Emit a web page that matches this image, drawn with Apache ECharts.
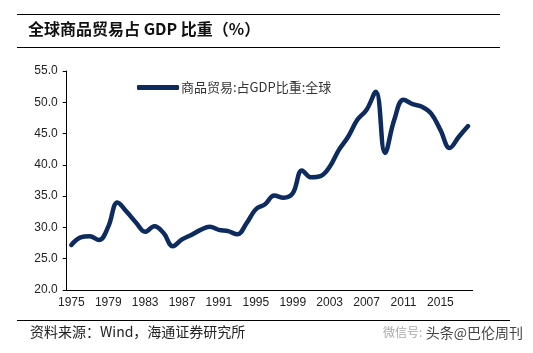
<!DOCTYPE html>
<html>
<head>
<meta charset="utf-8">
<script src="https://cdn.jsdelivr.net/npm/echarts@6/dist/echarts.min.js"></script>
<style>
  html, body { margin: 0; padding: 0; background: #fff; }
  #chart { width: 533px; height: 353px; }
</style>
</head>
<body>
<div id="chart"></div>
<script>
// years on the category axis
const years = [];
for (let y = 1975; y <= 2018; y++) years.push(String(y));

// 商品贸易:占GDP比重:全球 (%)
const tradeShare = [
  27.2, 28.4, 28.6, 28.0, 30.1, 34.0, 32.5, 30.8, 29.3, 30.2,
  29.1, 27.0, 28.1, 28.8, 29.6, 30.1, 29.6, 29.4, 28.9, 30.7,
  32.9, 33.7, 35.1, 34.75, 35.45, 39.1, 38.0, 38.2, 39.7, 42.4,
  44.5, 47.2, 48.8, 51.7, 41.9, 47.2, 50.4, 49.7, 49.3, 48.2,
  45.6, 42.7, 44.5, 46.2
];

const seriesName = '商品贸易:占GDP比重:全球';
const chartTitle = '全球商品贸易占 GDP 比重（%）';
const sourceNote = '资料来源：Wind，海通证券研究所';

const chart = echarts.init(document.getElementById('chart'));

const axisFont = { fontFamily: 'Liberation Sans', fontSize: 12, color: '#222' };

chart.setOption({
  animation: false,
  grid: { left: 66.7, right: 60.3, top: 71, bottom: 63 },
  legend: {
    left: 132, top: 76,
    itemWidth: 42, itemHeight: 5, itemGap: 4,
    icon: 'roundRect',
    textStyle: { fontFamily: 'Noto Sans CJK SC', fontSize: 13, color: '#333', padding: [0, 0, 0, -3] },
    data: [seriesName]
  },
  xAxis: {
    type: 'category',
    data: years,
    boundaryGap: true,
    axisLine: { lineStyle: { color: '#000', width: 1 } },
    axisTick: { interval: 3, length: 4, lineStyle: { color: '#000' } },
    axisLabel: Object.assign({ interval: 3, margin: 7 }, axisFont),
    splitLine: { show: false }
  },
  yAxis: {
    type: 'value',
    min: 20, max: 55, interval: 5,
    axisLine: { show: true, lineStyle: { color: '#000', width: 1 } },
    axisTick: { show: true, length: 4, lineStyle: { color: '#000' } },
    axisLabel: Object.assign({ margin: 9, formatter: v => v.toFixed(1) }, axisFont),
    splitLine: { show: false }
  },
  series: [{
    name: seriesName,
    type: 'line',
    data: tradeShare,
    smooth: 0.4,
    symbol: 'none',
    itemStyle: { color: '#0d2b5e' },
    lineStyle: { color: '#0d2b5e', width: 4.5, cap: 'round', join: 'round' }
  }],
  graphic: [
    { type: 'line', shape: { x1: 17, y1: 14.5, x2: 500, y2: 14.5 }, style: { stroke: '#000', lineWidth: 1 } },
    { type: 'text', left: 28, top: 21,
      style: { text: chartTitle, font: 'bold 16px "Noto Sans CJK SC"', fill: '#111' } },
    { type: 'line', shape: { x1: 17, y1: 47.5, x2: 500, y2: 47.5 }, style: { stroke: '#000', lineWidth: 1 } },
    { type: 'line', shape: { x1: 17, y1: 320.5, x2: 510, y2: 320.5 }, style: { stroke: '#000', lineWidth: 1 } },
    { type: 'text', left: 30, top: 325,
      style: { text: sourceNote, font: '14px "Noto Sans CJK SC"', fill: '#222' } },
    { type: 'text', left: 383, top: 326,
      style: { text: '微信号:', font: '12px "Noto Sans CJK SC"', fill: '#aaa' } },
    { type: 'text', left: 425, top: 325,
      style: { text: '头条@巴伦周刊', font: '14px "Noto Sans CJK SC"', fill: '#444', stroke: '#fff', lineWidth: 1.5 } }
  ]
});
</script>
</body>
</html>
